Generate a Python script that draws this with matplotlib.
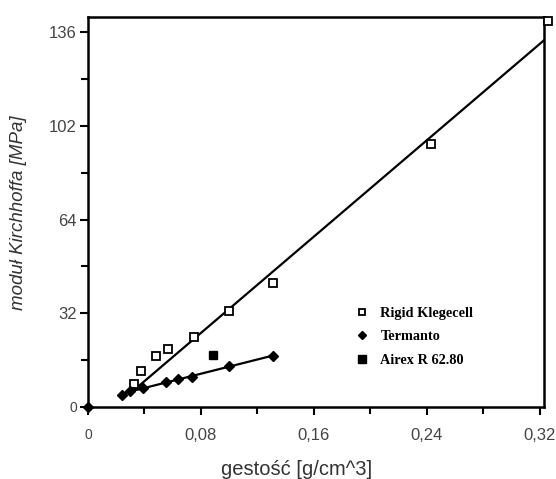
import numpy as np
import matplotlib
matplotlib.use("Agg")
import matplotlib.pyplot as plt

# Rigid Klegecell (open squares)
rigid_x = [0.0326, 0.0375, 0.048, 0.057, 0.075, 0.100, 0.131, 0.243, 0.326]
rigid_y = [8.4, 13.1, 18.5, 21.1, 25.3, 34.9, 45.1, 95.3, 140.0]
# Termanto (filled diamonds)
term_x = [0.0, 0.024, 0.030, 0.039, 0.055, 0.064, 0.074, 0.100, 0.131]
term_y = [0.0, 4.4, 5.8, 6.9, 9.1, 10.2, 10.9, 14.9, 18.5]
# Airex R 62.80 (filled square)
airex_x = [0.0885]
airex_y = [18.9]

# fitted lines (slope, intercept)
rigid_fit = (437.0, -8.1)
rigid_fit_range = [0.031, 0.3244]
term_fit_x = [0.024, 0.030, 0.039, 0.055, 0.064, 0.074, 0.100, 0.131]

xticks = [0, 0.08, 0.16, 0.24, 0.32]
xticklabels = ["0", "0,08", "0,16", "0,24", "0,32"]
yticks = [0, 34, 68, 102, 136]
yticklabels = ["0", "32", "64", "102", "136"]

fig = plt.figure(figsize=(5.56, 4.79), dpi=100)
ax = fig.add_axes([88/556, 1-407/479, (544-88)/556, (407-17)/479])

# fit lines
rx = np.array(rigid_fit_range)
ax.plot(rx, rigid_fit[0]*rx + rigid_fit[1], color="black", lw=1.6, zorder=2)
tx = np.array(term_x[1:])
ty = np.array(term_y[1:])
p = np.polyfit(tx, ty, 1)
tfx = np.array([min(term_fit_x), max(term_fit_x)])
ax.plot(tfx, np.polyval(p, tfx), color="black", lw=1.6, zorder=2)

ax.plot(rigid_x, rigid_y, ls="none", marker="s", ms=5.5, mfc="white", mec="black",
        mew=1.3, clip_on=False, zorder=4, label="Rigid Klegecell")
ax.plot(term_x, term_y, ls="none", marker="D", ms=5, mfc="black", mec="black",
        clip_on=False, zorder=4, label="Termanto")
ax.plot(airex_x, airex_y, ls="none", marker="s", ms=6, mfc="black", mec="black",
        clip_on=False, zorder=4, label="Airex R 62.80")

ax.set_xlim(0, 0.323)
ax.set_ylim(0, 141.5)
ax.set_xticks(xticks)
ax.set_xticklabels(xticklabels)
ax.set_yticks(yticks)
ax.set_yticklabels(yticklabels)
ax.set_xticks([0.04, 0.12, 0.20, 0.28], minor=True)
ax.set_yticks([17, 51, 85, 119], minor=True)

for s in ax.spines.values():
    s.set_linewidth(1.8)
ax.tick_params(which="major", direction="out", length=6, width=1.5,
               labelsize=12, labelcolor="#444444")
ax.tick_params(axis="x", which="major", pad=9)
ax.tick_params(axis="y", which="major", pad=2)
ax.tick_params(which="minor", direction="out", length=5, width=1.5)
for lab in ax.get_xticklabels() + ax.get_yticklabels():
    lab.set_family("Liberation Sans")
ax.get_xticklabels()[0].set_fontsize(10)
ax.get_yticklabels()[0].set_fontsize(10)

ax.set_xlabel("gestość [g/cm^3]", fontsize=14.5, family="Liberation Sans",
              color="#333333")
ax.xaxis.set_label_coords((297-88)/(544-88), -(460-407)/(407-17))
ax.set_ylabel("moduł Kirchhoffa [MPa]", fontsize=13.5, family="Liberation Sans",
              style="italic", color="#333333")
ax.yaxis.set_label_coords(-(88-27)/(544-88), (407-213)/390)

leg = ax.legend(loc="upper left", bbox_to_anchor=((349-88)/456, (407-301)/390),
                frameon=False, handletextpad=0.8, labelspacing=0.75,
                prop={"family": "Liberation Serif", "weight": "bold", "size": 10.3},
                handlelength=1.0, borderaxespad=0, markerscale=0.9)

fig.savefig("out.png", dpi=100)
